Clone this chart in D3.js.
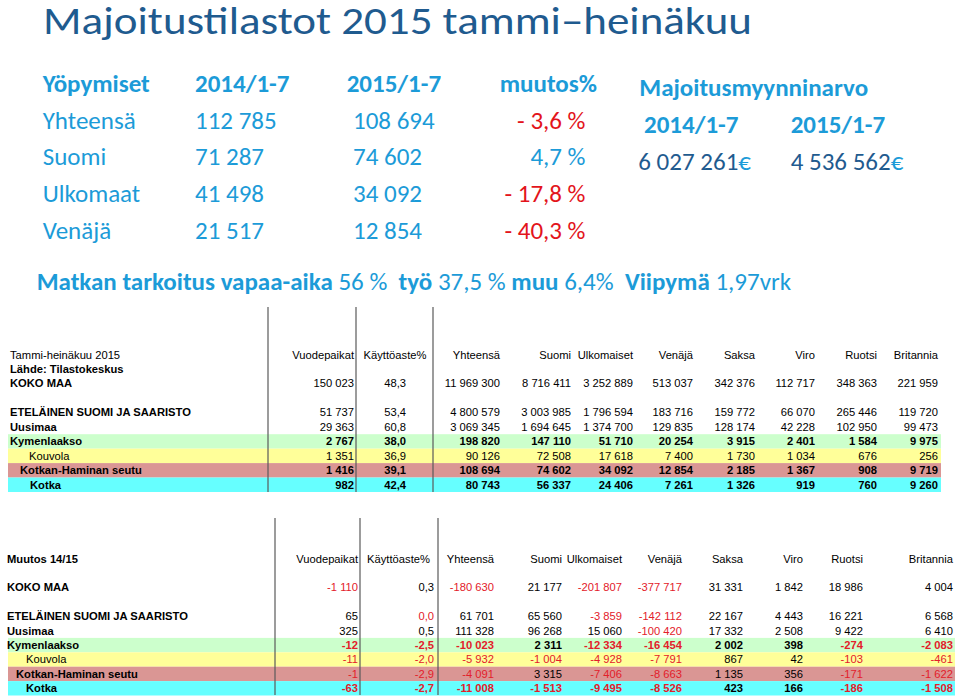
<!DOCTYPE html>
<html><head><meta charset="utf-8">
<script src="https://cdn.jsdelivr.net/npm/d3@7"></script>
<style>body{margin:0;background:#fff}svg{display:block}text{white-space:pre}</style>
</head><body><svg id="c" width="960" height="700"></svg>
<script>
// ---------- data ----------
const title = "Majoitustilastot 2015 tammi–heinäkuu";
const stayHeaders = ["Yöpymiset", "2014/1-7", "2015/1-7", "muutos%"];
const stayCategories = ["Yhteensä", "Suomi", "Ulkomaat", "Venäjä"];
const stays2014 = [112785, 71287, 41498, 21517];
const stays2015 = [108694, 74602, 34092, 12854];
const stayChange = [-3.6, 4.7, -17.8, -40.3];

const salesTitle = "Majoitusmyynninarvo";
const salesPeriods = ["2014/1-7", "2015/1-7"];
const salesValues = [6027261, 4536562];

const purposeLabels = ["Matkan tarkoitus vapaa-aika", "työ", "muu", "Viipymä"];
const purposeValues = [56, 37.5, 6.4, 1.97];
const purposeUnits = [" %", " %", "%", "vrk"];

const columns = ["Vuodepaikat", "Käyttöaste%", "Yhteensä", "Suomi", "Ulkomaiset", "Venäjä", "Saksa", "Viro", "Ruotsi", "Britannia"];
const regions = ["KOKO MAA", "ETELÄINEN SUOMI JA SAARISTO", "Uusimaa", "Kymenlaakso", "Kouvola", "Kotkan-Haminan seutu", "Kotka"];

const table1Title = "Tammi-heinäkuu 2015";
const table1Source = "Lähde: Tilastokeskus";
const t1KokoMaa   = [150023, 48.3, 11969300, 8716411, 3252889, 513037, 342376, 112717, 348363, 221959];
const t1Etelainen = [51737, 53.4, 4800579, 3003985, 1796594, 183716, 159772, 66070, 265446, 119720];
const t1Uusimaa   = [29363, 60.8, 3069345, 1694645, 1374700, 129835, 128174, 42228, 102950, 99473];
const t1Kymenlaakso = [2767, 38.0, 198820, 147110, 51710, 20254, 3915, 2401, 1584, 9975];
const t1Kouvola   = [1351, 36.9, 90126, 72508, 17618, 7400, 1730, 1034, 676, 256];
const t1KotkaHamina = [1416, 39.1, 108694, 74602, 34092, 12854, 2185, 1367, 908, 9719];
const t1Kotka     = [982, 42.4, 80743, 56337, 24406, 7261, 1326, 919, 760, 9260];

const table2Title = "Muutos 14/15";
const t2KokoMaa   = [-1110, 0.3, -180630, 21177, -201807, -377717, 31331, 1842, 18986, 4004];
const t2Etelainen = [65, -0.04, 61701, 65560, -3859, -142112, 22167, 4443, 16221, 6568];
const t2Uusimaa   = [325, 0.5, 111328, 96268, 15060, -100420, 17332, 2508, 9422, 6410];
const t2Kymenlaakso = [-12, -2.5, -10023, 2311, -12334, -16454, 2002, 398, -274, -2083];
const t2Kouvola   = [-11, -2.0, -5932, -1004, -4928, -7791, 867, 42, -103, -461];
const t2KotkaHamina = [-1, -2.9, -4091, 3315, -7406, -8663, 1135, 356, -171, -1622];
const t2Kotka     = [-63, -2.7, -11008, -1513, -9495, -8526, 423, 166, -186, -1508];

// ---------- rendering ----------
const svg = d3.select("#c");
svg.append("rect").attr("width", 960).attr("height", 700).attr("fill", "#fff");
const loc = d3.formatLocale({decimal: ",", thousands: " ", grouping: [3], currency: ["", "€"], minus: "-"});
const fInt = loc.format(",d"), f1 = loc.format(",.1f"), fG = loc.format("~f");
const DARK = "#1F5B8F", LIGHT = "#1C9BD8", RED = "#E3141B", TRED = "#E3202A";
const TOPFONT = "Calibri, Carlito, Lato, 'Open Sans', sans-serif";
const TOPSIZE = 25;

svg.append("text").attr("x", 43).attr("y", 34).attr("font-size", 39)
  .attr("font-family", TOPFONT).attr("fill", DARK)
  .attr("textLength", 709).attr("lengthAdjust", "spacingAndGlyphs").text(title);

// stays table
const stayG = svg.append("g").attr("font-family", TOPFONT).attr("font-size", TOPSIZE).attr("fill", LIGHT);
const sy = d3.scaleLinear().domain([0, 4]).range([92, 238.5]);
const sx = d3.scaleOrdinal().domain(stayHeaders).range([42.7, 195, 346.7, 597]);
stayG.selectAll("text.h").data(stayHeaders).join("text")
  .attr("x", d => sx(d)).attr("y", sy(0)).attr("font-weight", "bold")
  .attr("text-anchor", (d, i) => i === 3 ? "end" : "start").text(d => d);
stayCategories.forEach((c, i) => {
  const y = sy(i + 1);
  stayG.append("text").attr("x", sx(stayHeaders[0])).attr("y", y).text(c);
  stayG.append("text").attr("x", sx(stayHeaders[1])).attr("y", y).text(fInt(stays2014[i]));
  stayG.append("text").attr("x", sx(stayHeaders[2]) + 6.3).attr("y", y).text(fInt(stays2015[i]));
  const v = stayChange[i];
  stayG.append("text").attr("x", sx(stayHeaders[3]) - 11.5).attr("y", y).attr("text-anchor", "end")
    .attr("fill", v < 0 ? RED : LIGHT).text((v < 0 ? "- " + f1(-v) : f1(v)) + " %");
});

// sales
const salesG = svg.append("g").attr("font-family", TOPFONT).attr("font-size", TOPSIZE);
salesG.append("text").attr("x", 639.3).attr("y", 96).attr("font-weight", "bold").attr("fill", LIGHT).text(salesTitle);
const px = d3.scaleOrdinal().domain(salesPeriods).range([644, 790.7]);
salesPeriods.forEach((p, i) => {
  salesG.append("text").attr("x", px(p)).attr("y", 133.3).attr("font-weight", "bold").attr("fill", LIGHT).text(p);
  const t = salesG.append("text").attr("x", i === 0 ? 638.3 : 790.7).attr("y", 170).attr("fill", DARK);
  t.append("tspan").text(fInt(salesValues[i]));
  t.append("tspan").attr("fill", LIGHT).text("€");
});

// purpose line
const pl = svg.append("text").attr("x", 36.7).attr("y", 290).attr("font-family", TOPFONT)
  .attr("font-size", TOPSIZE).attr("fill", LIGHT);
purposeLabels.forEach((l, i) => {
  const sep = i === 0 ? "" : (i === 2 ? " " : "  ");
  pl.append("tspan").attr("font-weight", "bold").text(sep + l);
  pl.append("tspan").text(" " + fG(purposeValues[i]) + purposeUnits[i]);
});

// tables
const rowIdx = [2, 4, 5, 6, 7, 8, 9];
const rowBg = [null, null, null, "#CCFFCC", "#FFFF99", "#DA9694", "#66FFFF"];
function drawTable(cfg) {
  const g = svg.append("g").attr("font-family", "'Liberation Sans', Arial, sans-serif").attr("font-size", 11.2);
  const y = d3.scaleLinear().domain([0, 9]).range([cfg.y0, cfg.y0 + 9 * cfg.step]);
  const x = d3.scaleOrdinal().domain(columns).range(cfg.colRight);
  rowIdx.forEach((ri, i) => {
    if (rowBg[i]) g.append("rect").attr("x", 8).attr("width", cfg.bgRight - 8)
      .attr("y", y(ri) - 11).attr("height", cfg.step).attr("fill", rowBg[i]);
  });
  cfg.lines.forEach(lx => g.append("line").attr("x1", lx).attr("x2", lx)
    .attr("y1", cfg.lineTop).attr("y2", cfg.lineBottom).attr("stroke", "#5a5a5a").attr("stroke-width", 1.2));
  cfg.titles.forEach(t => g.append("text").attr("x", cfg.labelX[0]).attr("y", y(t.idx))
    .attr("font-weight", t.bold ? "bold" : "normal").text(t.text));
  columns.forEach((c, j) => {
    g.append("text").attr("x", j === 1 ? cfg.kayttoCenter : x(c)).attr("y", y(0))
      .attr("text-anchor", j === 1 ? "middle" : "end").text(c);
  });
  cfg.rows.forEach((vals, i) => {
    const yy = y(rowIdx[i]);
    g.append("text").attr("x", cfg.labelX[i]).attr("y", yy)
      .attr("font-weight", cfg.labelBold[i] ? "bold" : "normal").text(regions[i]);
    vals.forEach((v, j) => {
      g.append("text").attr("x", x(columns[j])).attr("y", yy).attr("text-anchor", "end")
        .attr("font-weight", cfg.valBold[i] ? "bold" : "normal")
        .attr("fill", cfg.colorNeg && v < 0 ? TRED : "#000")
        .text(j === 1 ? f1(v) : fInt(v));
    });
  });
}
drawTable({
  y0: 358.5, step: 14.45, bgRight: 941,
  colRight: [354, 406, 500, 571, 633, 693, 755, 815, 877, 938], kayttoCenter: 395,
  lines: [268, 356, 433], lineTop: 307, lineBottom: 492,
  titles: [{idx: 0, text: table1Title, bold: false}, {idx: 1, text: table1Source, bold: true}],
  rows: [t1KokoMaa, t1Etelainen, t1Uusimaa, t1Kymenlaakso, t1Kouvola, t1KotkaHamina, t1Kotka],
  labelX: [10, 10, 10, 10, 29, 20, 30],
  labelBold: [true, true, true, true, false, true, true],
  valBold: [false, false, false, true, false, true, true],
  colorNeg: false
});
drawTable({
  y0: 562.5, step: 14.4, bgRight: 955,
  colRight: [358, 434, 494, 562, 622, 682, 743, 803, 863, 953], kayttoCenter: 398.5,
  lines: [275, 360, 438], lineTop: 518, lineBottom: 695,
  titles: [{idx: 0, text: table2Title, bold: true}],
  rows: [t2KokoMaa, t2Etelainen, t2Uusimaa, t2Kymenlaakso, t2Kouvola, t2KotkaHamina, t2Kotka],
  labelX: [7, 7, 7, 7, 26, 16, 26],
  labelBold: [true, true, true, true, false, true, true],
  valBold: [false, false, false, true, false, false, true],
  colorNeg: true
});
</script></body></html>
